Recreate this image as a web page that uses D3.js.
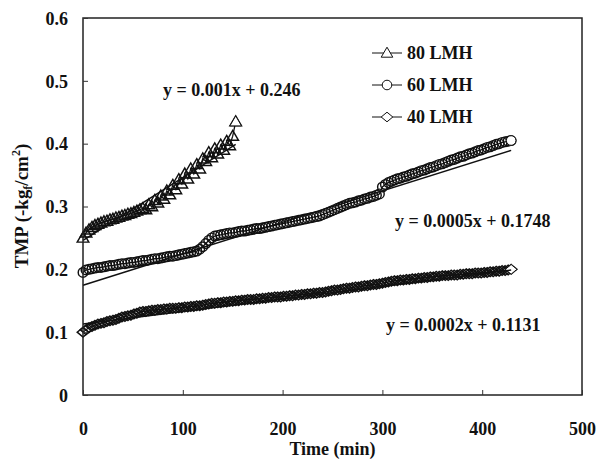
<!DOCTYPE html>
<html>
<head>
<meta charset="utf-8">
<script src="https://cdn.jsdelivr.net/npm/d3@7"></script>
<style>
  html, body { margin: 0; padding: 0; background: #fff; }
  svg text { font-family: "Liberation Serif", "Times New Roman", serif; font-weight: bold; fill: #111; }
</style>
</head>
<body>
<svg id="chart" width="597" height="461"></svg>
<script>
// ---- data ----
const timeStep = 3; // minutes between readings
const lmh80 = [0.250,0.258,0.263,0.267,0.270,0.272,0.274,0.276,0.277,0.279,
  0.280,0.282,0.283,0.285,0.286,0.288,0.289,0.291,0.293,0.295,
  0.297,0.295,0.303,0.300,0.310,0.306,0.317,0.312,0.325,0.319,
  0.334,0.327,0.343,0.336,0.352,0.344,0.360,0.352,0.367,0.360,
  0.376,0.372,0.386,0.378,0.392,0.384,0.398,0.390,0.404,0.397,
  0.412,0.435];
const lmh60 = [0.195,0.199,0.200,0.201,0.202,0.203,0.203,0.204,0.205,0.206,
  0.206,0.207,0.208,0.209,0.209,0.210,0.211,0.211,0.212,0.213,
  0.214,0.214,0.215,0.216,0.217,0.217,0.218,0.219,0.220,0.221,
  0.221,0.222,0.223,0.224,0.225,0.226,0.227,0.228,0.229,0.232,
  0.236,0.241,0.246,0.250,0.253,0.254,0.255,0.256,0.257,0.258,
  0.258,0.259,0.260,0.261,0.261,0.262,0.263,0.264,0.265,0.265,
  0.266,0.267,0.268,0.269,0.270,0.271,0.272,0.273,0.274,0.275,
  0.276,0.277,0.278,0.279,0.280,0.281,0.282,0.283,0.284,0.285,
  0.287,0.289,0.291,0.293,0.295,0.297,0.299,0.301,0.303,0.305,
  0.306,0.307,0.309,0.310,0.312,0.313,0.315,0.316,0.318,0.320,
  0.331,0.335,0.338,0.340,0.342,0.344,0.345,0.347,0.348,0.350,
  0.352,0.353,0.355,0.357,0.358,0.360,0.362,0.363,0.365,0.367,
  0.368,0.370,0.372,0.374,0.375,0.377,0.379,0.380,0.382,0.384,
  0.385,0.387,0.389,0.390,0.392,0.394,0.395,0.397,0.399,0.400,
  0.402,0.403,0.404,0.405];
const lmh40 = [0.100,0.104,0.107,0.109,0.111,0.113,0.114,0.115,0.117,0.118,
  0.119,0.120,0.122,0.124,0.125,0.126,0.127,0.129,0.130,0.132,
  0.133,0.133,0.134,0.135,0.135,0.136,0.136,0.137,0.137,0.138,
  0.138,0.138,0.139,0.139,0.140,0.140,0.141,0.141,0.142,0.142,
  0.143,0.144,0.145,0.146,0.146,0.147,0.147,0.148,0.148,0.149,
  0.149,0.150,0.150,0.151,0.151,0.152,0.152,0.152,0.153,0.153,
  0.154,0.154,0.155,0.155,0.156,0.156,0.156,0.157,0.157,0.158,
  0.158,0.159,0.159,0.160,0.160,0.161,0.161,0.162,0.162,0.163,
  0.163,0.164,0.165,0.166,0.167,0.167,0.168,0.169,0.170,0.170,
  0.171,0.172,0.172,0.173,0.174,0.174,0.175,0.176,0.176,0.177,
  0.178,0.179,0.180,0.181,0.182,0.182,0.183,0.183,0.184,0.184,
  0.185,0.185,0.186,0.186,0.187,0.187,0.188,0.188,0.189,0.189,
  0.190,0.190,0.190,0.191,0.191,0.191,0.192,0.192,0.193,0.193,
  0.193,0.194,0.194,0.194,0.195,0.195,0.196,0.196,0.197,0.197,
  0.198,0.198,0.199,0.200];
const seriesNames = ["80 LMH", "60 LMH", "40 LMH"];
const fitSlopes = [0.001, 0.0005, 0.0002];
const fitIntercepts = [0.246, 0.1748, 0.1131];
const fitLabels = ["y = 0.001x + 0.246", "y = 0.0005x + 0.1748", "y = 0.0002x + 0.1131"];
const xTicks = [0, 100, 200, 300, 400, 500];
const yTicks = [0, 0.1, 0.2, 0.3, 0.4, 0.5, 0.6];

// ---- layout ----
const svg = d3.select("#chart");
const x = d3.scaleLinear().domain([0, 500]).range([83, 582]);
const y = d3.scaleLinear().domain([0, 0.6]).range([395, 18]);
const FS = 18;

svg.append("rect").attr("width", 597).attr("height", 461).attr("fill", "#fff");

function markerPath(kind) {
  if (kind === 0) return "M0,-5.8L5.8,4.2L-5.8,4.2Z";
  if (kind === 1) return d3.symbol(d3.symbolCircle, 72)();
  return "M0,-4.8L5.8,0L0,4.8L-5.8,0Z";
}

const allSeries = [lmh80, lmh60, lmh40];
const plot = svg.append("g");

allSeries.forEach((vals, si) => {
  const pts = vals.map((v, i) => [i * timeStep, v]);
  const g = plot.append("g");
  g.append("path")
    .attr("d", d3.line().x(d => x(d[0])).y(d => y(d[1]))(pts))
    .attr("fill", "none").attr("stroke", "#111").attr("stroke-width", 1.3);
  g.selectAll("path.m").data(pts).enter().append("path")
    .attr("class", "m")
    .attr("d", markerPath(si))
    .attr("transform", d => `translate(${x(d[0])},${y(d[1])})`)
    .attr("fill", "none").attr("stroke", "#111").attr("stroke-width", 1.45);
  const last = pts[pts.length - 1];
  g.append("path").attr("d", markerPath(si))
    .attr("transform", `translate(${x(last[0])},${y(last[1])})`)
    .attr("fill", "#fff").attr("stroke", "#111").attr("stroke-width", 1);
  // trend line
  const tEnd = (vals.length - 1) * timeStep;
  g.append("line")
    .attr("x1", x(0)).attr("y1", y(fitIntercepts[si]))
    .attr("x2", x(tEnd)).attr("y2", y(fitIntercepts[si] + fitSlopes[si] * tEnd))
    .attr("stroke", "#111").attr("stroke-width", 1.5);
});

// frame
svg.append("rect")
  .attr("x", x(0)).attr("y", y(0.6))
  .attr("width", x(500) - x(0)).attr("height", y(0) - y(0.6))
  .attr("fill", "none").attr("stroke", "#222").attr("stroke-width", 1.5);

// axes with inward ticks
const xAxis = d3.axisBottom(x).tickValues(xTicks).tickSizeInner(-5).tickSizeOuter(0).tickFormat(d3.format("d"));
const gx = svg.append("g").attr("transform", `translate(0,${y(0)})`).call(xAxis);
gx.select(".domain").remove();
gx.selectAll("line").attr("stroke", "#333").attr("stroke-width", 1);
gx.selectAll("text").attr("y", 34).attr("dy", "0.35em")
  .attr("font-size", FS).attr("font-family", "Liberation Serif").attr("font-weight", "bold").attr("fill", "#111");

const yAxis = d3.axisLeft(y).tickValues(yTicks).tickSizeInner(-5).tickSizeOuter(0).tickFormat(d => d === 0 ? "0" : d3.format(".1f")(d));
const gy = svg.append("g").attr("transform", `translate(${x(0)},0)`).call(yAxis);
gy.select(".domain").remove();
gy.selectAll("line").attr("stroke", "#333").attr("stroke-width", 1);
gy.selectAll("text").attr("x", -15).attr("dy", "0.35em")
  .attr("font-size", FS).attr("font-family", "Liberation Serif").attr("font-weight", "bold").attr("fill", "#111");

// axis titles
svg.append("text").attr("x", (x(0) + x(500)) / 2).attr("y", 455)
  .attr("text-anchor", "middle").attr("font-size", FS).text("Time (min)");

const yt = svg.append("text")
  .attr("transform", `translate(28,206) rotate(-90)`)
  .attr("text-anchor", "middle").attr("font-size", 19);
yt.append("tspan").text("TMP (-kg");
yt.append("tspan").attr("font-size", 12).attr("dy", 4).text("f");
yt.append("tspan").attr("dy", -4).text("/cm");
yt.append("tspan").attr("font-size", 12).attr("dy", -8).text("2");
yt.append("tspan").attr("dy", 8).text(")");

// legend
const legendY = [53, 85, 117];
seriesNames.forEach((name, i) => {
  const lg = svg.append("g").attr("transform", `translate(0,${legendY[i]})`);
  lg.append("line").attr("x1", 372).attr("x2", 402).attr("y1", 0).attr("y2", 0)
    .attr("stroke", "#111").attr("stroke-width", 1);
  lg.append("path").attr("d", markerPath(i)).attr("transform", "translate(387,0)")
    .attr("fill", "#fff").attr("stroke", "#111").attr("stroke-width", 1);
  lg.append("text").attr("x", 407).attr("y", 0).attr("dy", "0.35em")
    .attr("font-size", FS).text(name);
});

// fit equations
const eqPos = [[163, 90], [395, 221], [386, 325]];
fitLabels.forEach((t, i) => {
  svg.append("text").attr("x", eqPos[i][0]).attr("y", eqPos[i][1]).attr("dy", "0.35em")
    .attr("font-size", FS).text(t);
});
</script>
</body>
</html>
